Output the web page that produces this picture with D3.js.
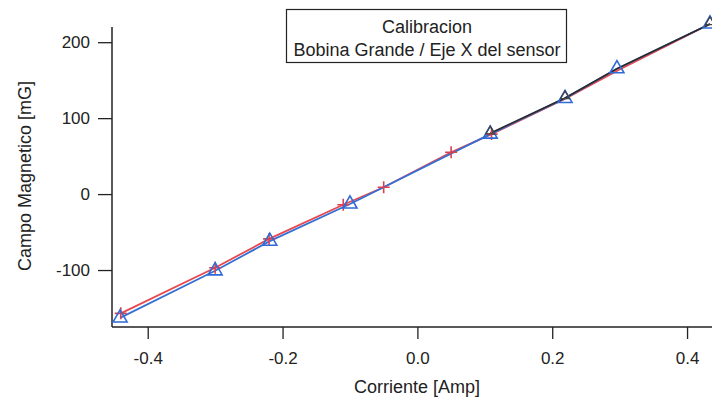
<!DOCTYPE html>
<html>
<head>
<meta charset="utf-8">
<script src="https://cdn.jsdelivr.net/npm/d3@7"></script>
<style>
  body { margin: 0; background: #fff; }
  text { font-family: "Liberation Sans", Arial, sans-serif; fill: #222; }
</style>
</head>
<body>
<svg width="712" height="401"></svg>
<script>
// red series (+ markers)
var redX = [-0.44, -0.30, -0.22, -0.11, -0.05, 0.05, 0.11, 0.22, 0.30, 0.434];
var redY = [-157, -97, -59, -14, 9, 55, 79, 126, 164, 224];
// blue series (triangles)
var blueX = [-0.441, -0.30, -0.219, -0.10, 0.108, 0.219, 0.296, 0.434];
var blueY = [-163, -101, -62, -13, 79, 126, 165, 224];
// black series (upper part)
var blackX = [0.108, 0.219, 0.296, 0.434];
var blackY = [80, 126.5, 165, 224];

var xTicks = [-0.4, -0.2, 0.0, 0.2, 0.4];
var yTicks = [-100, 0, 100, 200];
var titleLines = ["Calibracion", "Bobina Grande / Eje X del sensor"];

var margin = {left: 112, right: 0, top: 27, bottom: 74};
var width = 712, height = 401;

var xScale = d3.scaleLinear().domain([-0.453, 0.437]).range([margin.left, width - margin.right]);
var yScale = d3.scaleLinear().domain([-175, 220]).range([height - margin.bottom, margin.top]);

var svg = d3.select('svg');

function pts(xs, ys) {
  return xs.map(function (x, i) { return [x, ys[i]]; });
}

var line = d3.line()
  .x(function (d) { return xScale(d[0]); })
  .y(function (d) { return yScale(d[1]); });

// axes
var axisBottom = d3.axisBottom(xScale).tickValues(xTicks).tickSize(12)
  .tickFormat(function (d) { return d.toFixed(1); });
var axisLeft = d3.axisLeft(yScale).tickValues(yTicks).tickSize(14)
  .tickFormat(function (d) { return String(d); });

var gx = svg.append('g')
  .attr('transform', 'translate(0,' + (height - margin.bottom) + ')')
  .call(axisBottom);
gx.select('.domain').attr('d', 'M' + margin.left + ',0H' + width).attr('stroke', '#222').attr('stroke-width', 1.5);
gx.selectAll('.tick line').attr('stroke', '#222').attr('stroke-width', 1.3);
gx.selectAll('.tick text').attr('y', 25).style('font-size', '17px')
  .style('font-family', '"Liberation Sans", Arial, sans-serif').attr('fill', '#222');

var gy = svg.append('g')
  .attr('transform', 'translate(' + margin.left + ',0)')
  .call(axisLeft);
gy.select('.domain').attr('d', 'M0,' + margin.top + 'V' + (height - margin.bottom)).attr('stroke', '#222').attr('stroke-width', 1.5);
gy.selectAll('.tick line').attr('stroke', '#222').attr('stroke-width', 1.3);
gy.selectAll('.tick text').attr('x', -22).style('font-size', '17px')
  .style('font-family', '"Liberation Sans", Arial, sans-serif').attr('fill', '#222');

// lines
svg.append('path').attr('d', line(pts(redX, redY)))
  .attr('fill', 'none').attr('stroke', '#e8474f').attr('stroke-width', 1.8);
svg.append('path').attr('d', line(pts(blueX, blueY)))
  .attr('fill', 'none').attr('stroke', '#3470d4').attr('stroke-width', 1.8);
svg.append('path').attr('d', line(pts(blackX, blackY)))
  .attr('fill', 'none').attr('stroke', '#2a2a2a').attr('stroke-width', 1.6);

// red + markers
svg.selectAll('.plus')
  .data(pts(redX, redY).slice(0, 7))
  .enter()
  .append('path')
  .attr('class', 'plus')
  .attr('transform', function (d) { return 'translate(' + xScale(d[0]) + ',' + yScale(d[1]) + ')'; })
  .attr('d', 'M-6,0H6M0,-6V6')
  .attr('stroke', '#d84250').attr('stroke-width', 1.6);

// blue triangles
var tri = d3.symbol().type(d3.symbolTriangle).size(85);
svg.selectAll('.tri')
  .data(pts(blueX, blueY))
  .enter()
  .append('path')
  .attr('class', 'tri')
  .attr('transform', function (d) { return 'translate(' + xScale(d[0]) + ',' + yScale(d[1]) + ')'; })
  .attr('d', tri)
  .attr('fill', 'none').attr('stroke', '#2f6ad6').attr('stroke-width', 1.6);

// black markers
var triSmall = d3.symbol().type(d3.symbolTriangle).size(35);
svg.selectAll('.blk')
  .data(pts(blackX, blackY).filter(function (d, i) { return i !== 2; }))
  .enter()
  .append('path')
  .attr('class', 'blk')
  .attr('transform', function (d) { return 'translate(' + xScale(d[0]) + ',' + (yScale(d[1]) - 2) + ')'; })
  .attr('d', triSmall)
  .attr('fill', 'none').attr('stroke', '#444').attr('stroke-width', 1.3);

// title box
svg.append('rect')
  .attr('x', 286.5).attr('y', 9.5).attr('width', 280).attr('height', 53)
  .attr('fill', '#fff').attr('stroke', '#222').attr('stroke-width', 1.2);

svg.selectAll('.title')
  .data(titleLines)
  .enter()
  .append('text')
  .attr('class', 'title')
  .attr('x', 427)
  .attr('y', function (d, i) { return 33 + i * 23; })
  .style('text-anchor', 'middle')
  .style('font-size', '18px')
  .text(function (d) { return d; });

// text label for the y axis
svg.append('text')
  .attr('transform', 'rotate(-90)')
  .attr('y', 31)
  .attr('x', -176)
  .style('text-anchor', 'middle')
  .style('font-size', '18px')
  .text('Campo Magnetico [mG]');

// text label for the x axis
svg.append('text')
  .attr('y', 393)
  .attr('x', 417)
  .style('text-anchor', 'middle')
  .style('font-size', '18px')
  .text('Corriente [Amp]');
</script>
</body>
</html>
